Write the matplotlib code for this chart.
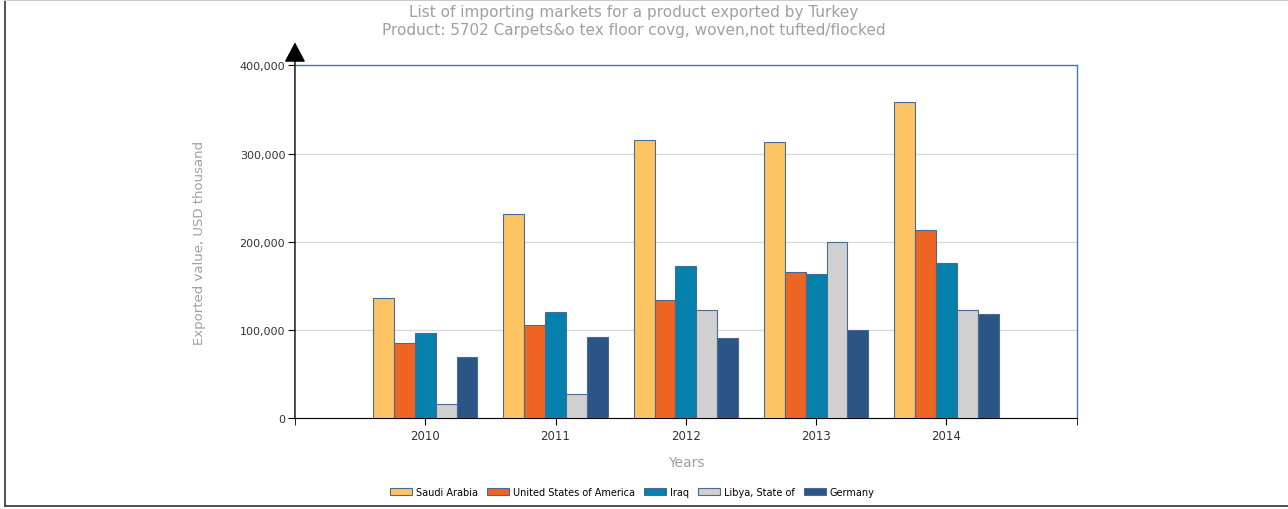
import matplotlib.pyplot as plt
import numpy as np
from matplotlib.lines import Line2D

years = ['2010', '2011', '2012', '2013', '2014']
markets = ['Saudi Arabia', 'United States of America', 'Iraq', 'Libya, State of', 'Germany']
colors = ['#FDC463', '#EE6523', '#0580AC', '#D0D0D0', '#2A5585']

saudi = [136000, 231000, 315000, 313500, 358800]
usa = [85000, 105400, 133700, 165400, 213000]
iraq = [96300, 120000, 172200, 163500, 175600]
libya = [15900, 27000, 122400, 199800, 122700]
germany = [69100, 91800, 90600, 99700, 118600]
series = [saudi, usa, iraq, libya, germany]

fig = plt.figure(figsize=(12.88, 5.10), dpi=100)
ax = fig.add_axes([0.229, 0.178, 0.607, 0.692])

x = np.arange(len(years))
w = 0.16
for i, vals in enumerate(series):
    ax.bar(x + (i - 2) * w, vals, w, color=colors[i], edgecolor='#4a6a90',
           linewidth=0.8, label=markets[i], zorder=3)

ax.set_xlim(-1, 5)
ax.set_ylim(0, 400000)
ax.set_yticks([0, 100000, 200000, 300000, 400000])
ax.set_yticklabels(['0', '100,000', '200,000', '300,000', '400,000'])
ax.set_xticks(x)
ax.set_xticklabels(years)
ax.set_xticks([-1, 5], minor=True)
ax.tick_params(axis='x', which='both', length=5, color='black', labelsize=8.5,
               labelcolor='#333333', pad=3)
ax.tick_params(axis='y', length=5, color='black', labelsize=8, labelcolor='#333333', pad=2)
ax.grid(axis='y', color='#d8d8d8', linewidth=0.9, zorder=0)

for s in ['top', 'right']:
    ax.spines[s].set_color('#4a78a8')
    ax.spines[s].set_linewidth(1)
ax.spines['bottom'].set_color('black')
ax.spines['left'].set_visible(False)

# y axis with arrow head
ax.annotate('', xy=(0, 1.065), xytext=(0, 0), xycoords='axes fraction',
            textcoords='axes fraction',
            arrowprops=dict(arrowstyle='-|>,head_length=0.62,head_width=0.33',
                            color='black', lw=1, shrinkA=0, shrinkB=0,
                            mutation_scale=20))

ax.set_xlabel('Years', color='#a0a0a0', fontsize=10, labelpad=9)
ax.set_ylabel('Exported value, USD thousand', color='#a0a0a0', fontsize=9.5, labelpad=24)

fig.text(0.492, 0.975, 'List of importing markets for a product exported by Turkey',
         ha='center', va='center', color='#a0a0a0', fontsize=11)
fig.text(0.492, 0.941, 'Product: 5702 Carpets&o tex floor covg, woven,not tufted/flocked',
         ha='center', va='center', color='#a0a0a0', fontsize=11)

fig.legend(loc='center', bbox_to_anchor=(0.491, 0.033), ncol=5, frameon=False,
           fontsize=7, handlelength=2.2, handleheight=0.75, columnspacing=1.0,
           handletextpad=0.4)

# outer frame
fig.add_artist(Line2D([0.004, 0.004], [0.006, 1.0], transform=fig.transFigure,
                      color='#333333', lw=1.2))
fig.add_artist(Line2D([0.004, 1.0], [0.006, 0.006], transform=fig.transFigure,
                      color='#333333', lw=1.2))
fig.add_artist(Line2D([0.004, 1.0], [0.999, 0.999], transform=fig.transFigure,
                      color='#cccccc', lw=1.5))

fig.savefig('out.png', dpi=100)
